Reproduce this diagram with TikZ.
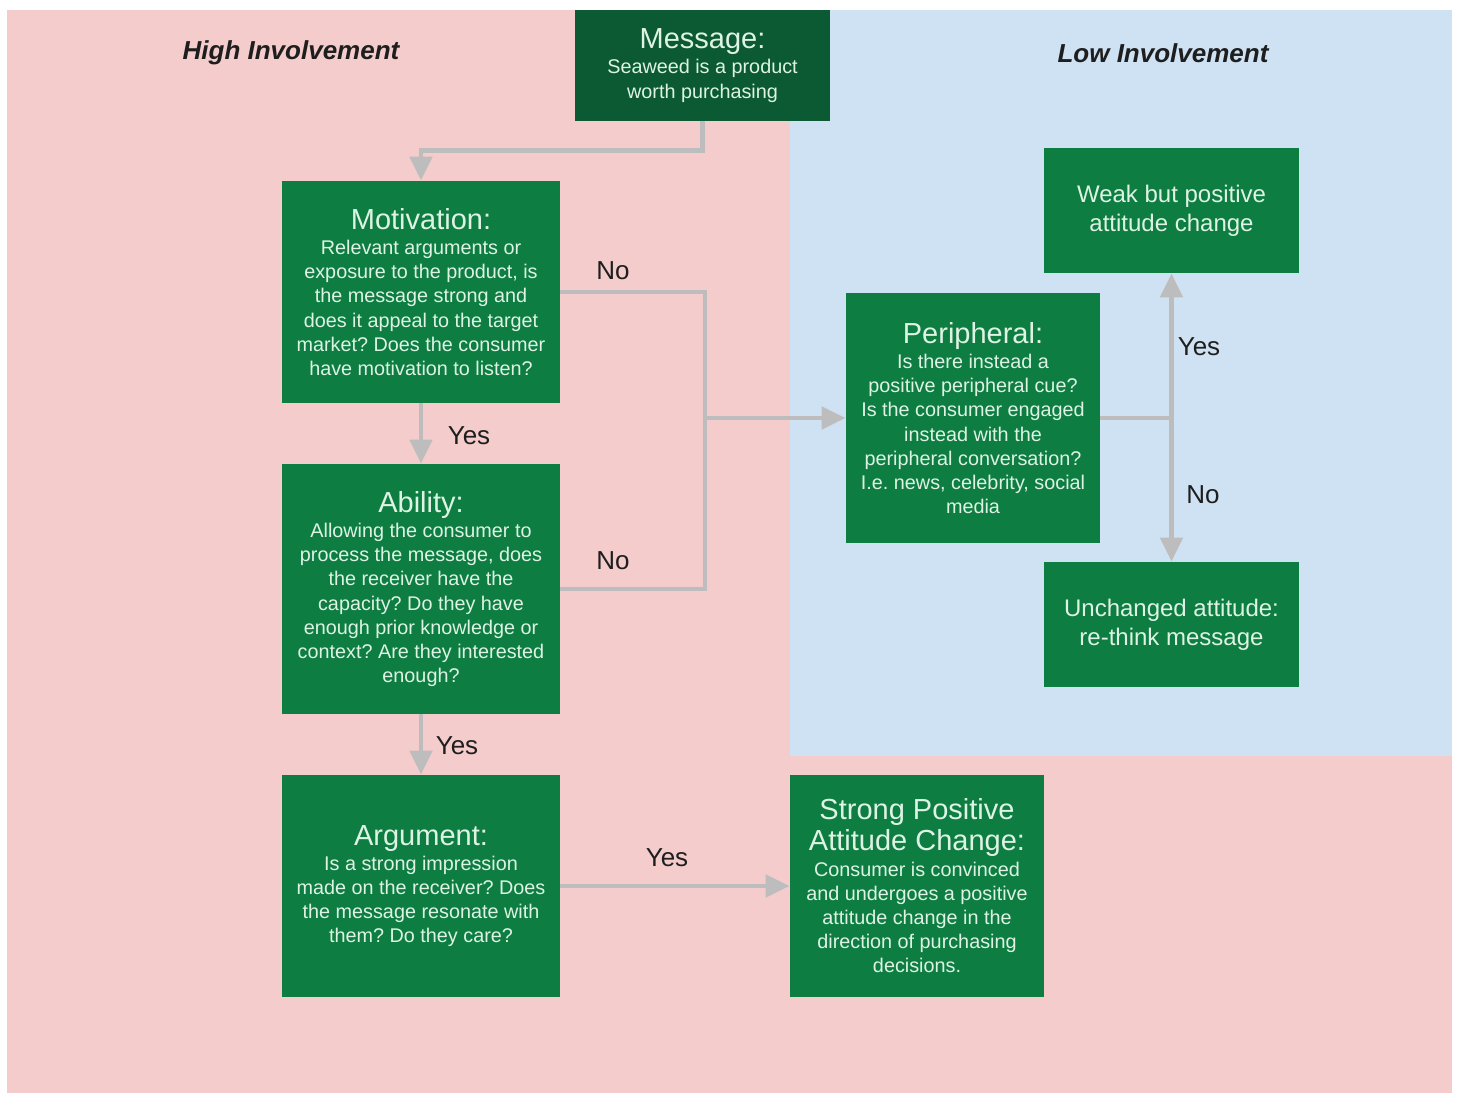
\documentclass[tikz,border=0pt]{standalone}
\usepackage{fontspec}
\setmainfont{Liberation Sans}
\usetikzlibrary{arrows.meta}
\frenchspacing
\definecolor{pinkbg}{HTML}{F4CCCC}
\definecolor{bluebg}{HTML}{CFE2F3}
\definecolor{boxgreen}{HTML}{0E7D42}
\definecolor{darkgreen}{HTML}{0C5A33}
\definecolor{boxtext}{HTML}{DDF3E4}
\definecolor{conngray}{HTML}{BDBDBD}
\definecolor{labeltext}{HTML}{1E1E1E}
\tikzset{
  gbox/.style={rectangle, fill=boxgreen, text=boxtext, align=center, inner sep=0pt, font=\fontsize{9.9}{12.1}\selectfont},
  conn/.style={draw=conngray, line width=2.4pt},
  arr/.style={conn, -{Triangle[length=12pt, width=11pt]}},
  lbl/.style={text=labeltext, font=\fontsize{13}{15}\selectfont, inner sep=0pt},
  ttl/.style={text=labeltext, font=\bfseries\itshape\fontsize{13}{15}\selectfont, inner sep=0pt}
}
\newcommand{\btitle}[1]{{\fontsize{14.5}{17}\selectfont #1}}
\begin{document}
\begin{tikzpicture}[x=0.5pt, y=-0.5pt]
\useasboundingbox (0,0) rectangle (1459,1095);
\fill[white] (0,0) rectangle (1459,1095);
\fill[pinkbg] (7,10) rectangle (1452,1093);
\fill[bluebg] (790,10) rectangle (1452,756);

\node[ttl] (hi) at (291,53) {High Involvement};
\node[ttl] (lo) at (1163,53) {Low Involvement};

\node[gbox, fill=darkgreen, minimum width=127.5pt, minimum height=55.5pt] (msg) at (702.5,65.5)
  {\btitle{Message:}\\[0.5pt] Seaweed is a product\\ worth purchasing};

\node[gbox, minimum width=139pt, minimum height=111pt] (mot) at (421,292)
  {\btitle{Motivation:}\\[0.5pt] Relevant arguments or\\ exposure to the product, is\\ the message strong and\\ does it appeal to the target\\ market? Does the consumer\\ have motivation to listen?};

\node[gbox, minimum width=139pt, minimum height=125pt] (abl) at (421,589)
  {\btitle{Ability:}\\[0.5pt] Allowing the consumer to\\ process the message, does\\ the receiver have the\\ capacity? Do they have\\ enough prior knowledge or\\ context? Are they interested\\ enough?};

\node[gbox, minimum width=139pt, minimum height=111pt] (arg) at (421,886)
  {\btitle{Argument:}\\[0.5pt] Is a strong impression\\ made on the receiver? Does\\ the message resonate with\\ them? Do they care?};

\node[gbox, minimum width=127pt, minimum height=111pt] (spc) at (917,886)
  {\btitle{Strong Positive}\\[1pt] \btitle{Attitude Change:}\\[0.5pt] Consumer is convinced\\ and undergoes a positive\\ attitude change in the\\ direction of purchasing\\ decisions.};

\node[gbox, minimum width=127pt, minimum height=125pt] (per) at (973,418)
  {\btitle{Peripheral:}\\[0.5pt] Is there instead a\\ positive peripheral cue?\\ Is the consumer engaged\\ instead with the\\ peripheral conversation?\\ I.e. news, celebrity, social\\ media};

\node[gbox, minimum width=127.5pt, minimum height=62.5pt, font=\fontsize{12}{14.5}\selectfont] (weak) at (1171.5,210.5)
  {Weak but positive\\ attitude change};

\node[gbox, minimum width=127.5pt, minimum height=62.5pt, font=\fontsize{12}{14.5}\selectfont] (unch) at (1171.5,624.5)
  {Unchanged attitude:\\ re-think message};

\coordinate (jx) at (705,418);
\coordinate (jy) at (1171.5,418);

\draw[arr] (msg.south) -- ++(0,29) -| (mot.north);
\draw[arr] (mot.south) -- (abl.north);
\draw[arr] (abl.south) -- (arg.north);
\draw[arr] (arg.east) -- (spc.west);
\draw[conn] (mot.east) -| (jx);
\draw[conn] (abl.east) -| (jx);
\draw[arr] (jx) -- (per.west);
\draw[conn] (per.east) -- (jy);
\draw[arr] (jy) -- (weak.south);
\draw[arr] (jy) -- (unch.north);

\node[lbl] (no1) at (613,271) {No};
\node[lbl] (no2) at (613,561) {No};
\node[lbl] (y1) at (469,436) {Yes};
\node[lbl] (y2) at (457,746) {Yes};
\node[lbl] (y3) at (667,858) {Yes};
\node[lbl] (y4) at (1199,347) {Yes};
\node[lbl] (no3) at (1203,495) {No};
\end{tikzpicture}
\end{document}
